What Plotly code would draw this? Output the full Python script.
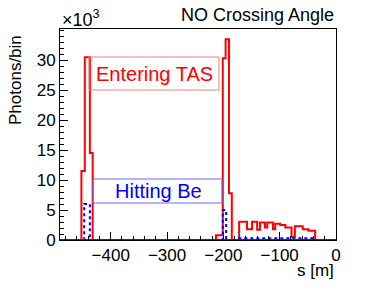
import plotly.graph_objects as go

# ---- data (s in metres, photons per bin) ----
red_edges = [-490, -452, -446, -437, -432, -213, -201, -196, -190, -185,
             -172, -158, -149, -140, -135, -126, -122, -112, -108, -99,
             -90, -79, -73, -59, -49, -37, 0]
red_counts = [0, 11500, 30500, 14500, 0, 800, 30300, 33500, 7800, 0,
              3050, 1800, 3050, 1700, 2900, 2100, 2900, 1800, 2700, 2500,
              2100, 500, 2300, 1800, 1550, 0]

blue_edges = [-490, -447, -437, -201, -195, -172, -37, 0]
blue_counts = [0, 6000, 0, 5000, 0, 300, 0]

purple_edges = [-490, 0]
purple_counts = [0]

y_tick_vals = [0, 5000, 10000, 15000, 20000, 25000, 30000]
y_tick_text = ["0", "5", "10", "15", "20", "25", "30"]
x_tick_vals = [-400, -300, -200, -100, 0]
x_tick_text = ["\u2212400", "\u2212300", "\u2212200", "\u2212100", "0"]


def step(edges, counts):
    return edges, list(counts) + [counts[-1]]


FONT = "Liberation Sans, Arial, sans-serif"
fig = go.Figure()

x, y = step(red_edges, red_counts)
fig.add_trace(go.Scatter(x=x, y=y, mode="lines", line_shape="hv",
                         line=dict(color="#ff0000", width=2), showlegend=False))
x, y = step(blue_edges, blue_counts)
fig.add_trace(go.Scatter(x=x, y=y, mode="lines", line_shape="hv",
                         line=dict(color="#0000ff", width=2, dash="dot"), showlegend=False))
x, y = step(purple_edges, purple_counts)
fig.add_trace(go.Scatter(x=x, y=y, mode="lines", line_shape="hv",
                         line=dict(color="#800080", width=2), showlegend=False))

# plot-area geometry in pixels
L, R, T, B = 60, 336, 29, 240
W, H = 374, 293


def px(xp):
    return (xp - L) / (R - L)


def py(yp):
    return (B - yp) / (B - T)


fig.update_layout(
    width=W, height=H,
    margin=dict(l=L, r=W - R, t=T, b=H - B, pad=0),
    paper_bgcolor="white", plot_bgcolor="white",
    font=dict(family=FONT, color="black"),
    xaxis=dict(range=[-490, 0], tickvals=x_tick_vals, ticktext=x_tick_text,
               ticks="inside", ticklen=8, tickcolor="black", tickwidth=1,
               minor=dict(dtick=20, ticks="inside", ticklen=4, tickcolor="black"),
               showgrid=False, zeroline=False, showline=True, linecolor="black",
               linewidth=1, mirror=True, tickfont=dict(size=17, family=FONT)),
    yaxis=dict(range=[0, 35200], tickvals=y_tick_vals, ticktext=y_tick_text,
               ticks="inside", ticklen=8, tickcolor="black", tickwidth=1,
               minor=dict(dtick=1000, ticks="inside", ticklen=4, tickcolor="black"),
               showgrid=False, zeroline=False, showline=True, linecolor="black",
               linewidth=1, mirror=True, tickfont=dict(size=17, family=FONT)),
    shapes=[
        dict(type="rect", xref="paper", yref="paper",
             x0=px(89), x1=px(219), y0=py(90), y1=py(57),
             line=dict(color="#f08080", width=1), fillcolor="rgba(255,255,255,0)"),
        dict(type="rect", xref="paper", yref="paper",
             x0=px(93), x1=px(222), y0=py(203), y1=py(179),
             line=dict(color="#6a6aff", width=1), fillcolor="rgba(255,255,255,0)"),
    ],
    annotations=[
        dict(text="NO Crossing Angle", xref="paper", yref="paper",
             x=1, y=py(15), xanchor="right", yanchor="middle", showarrow=False,
             font=dict(size=18, family=FONT)),
        dict(text="\u00d710<sup>3</sup>", xref="paper", yref="paper",
             x=0, y=py(18), xanchor="left", yanchor="middle", showarrow=False,
             font=dict(size=18, family=FONT)),
        dict(text="Photons/bin", xref="paper", yref="paper",
             x=px(15), y=py(80), xanchor="center", yanchor="middle", showarrow=False,
             textangle=-90, font=dict(size=17, family=FONT)),
        dict(text="s [m]", xref="paper", yref="paper",
             x=1, y=py(270), xanchor="right", yanchor="middle", showarrow=False,
             font=dict(size=17, family=FONT)),
        dict(text="Entering TAS", xref="paper", yref="paper",
             x=px(154), y=py(74), xanchor="center", yanchor="middle", showarrow=False,
             font=dict(size=20, family=FONT, color="#ff0000")),
        dict(text="Hitting Be", xref="paper", yref="paper",
             x=px(158), y=py(191), xanchor="center", yanchor="middle", showarrow=False,
             font=dict(size=20, family=FONT, color="#0000ff")),
    ],
)

fig.write_html("out.html", config={"displayModeBar": False},
               post_script="document.body.style.margin='0px';")
